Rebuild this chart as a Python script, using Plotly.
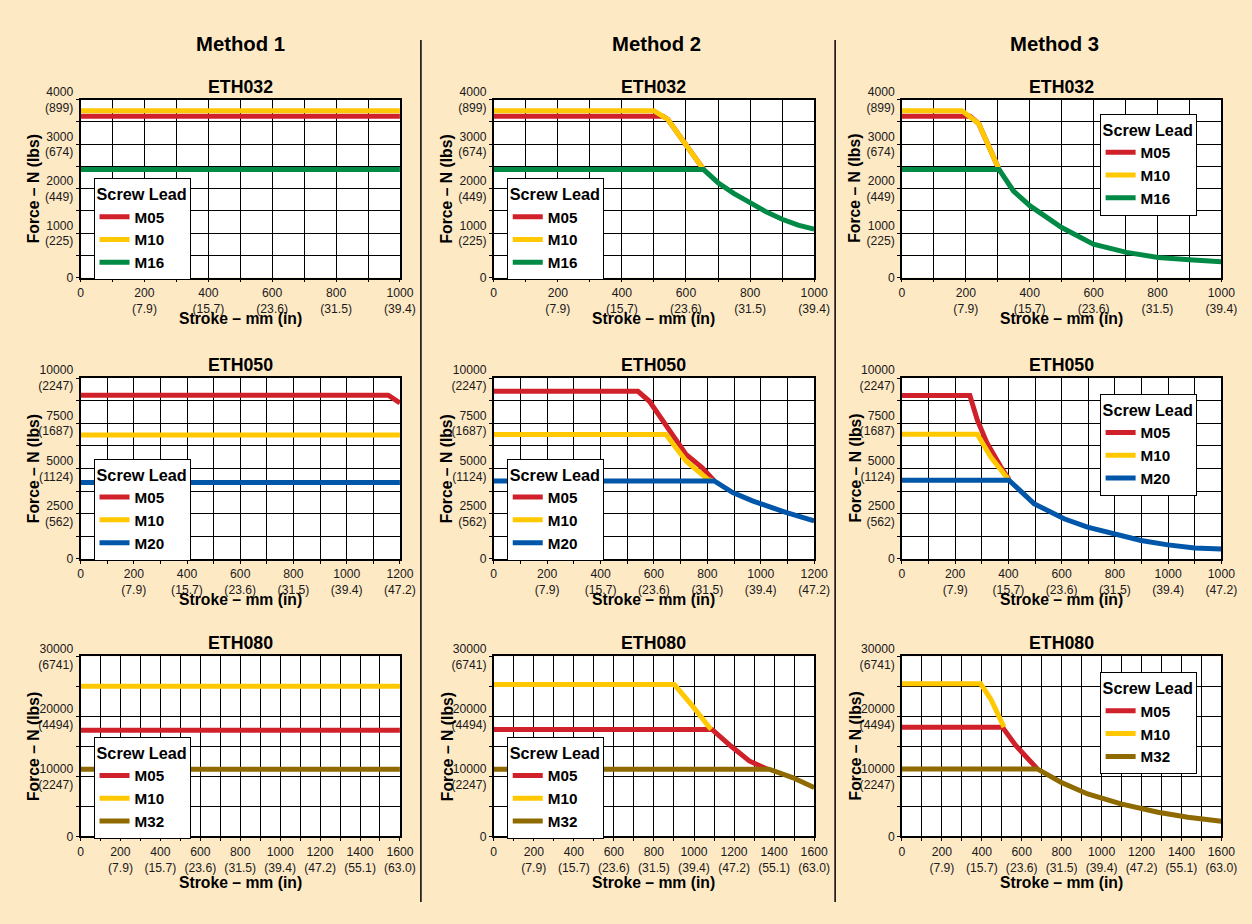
import plotly.graph_objects as go

W, H = 1252, 924
BG = "#FEE9C5"
FONT = "Liberation Sans, Arial, Helvetica, sans-serif"

# ---------------- labels ----------------
methods = ["Method 1", "Method 2", "Method 3"]
models = ["ETH032", "ETH050", "ETH080"]
lead_names = {
    "ETH032": ["M05", "M10", "M16"],
    "ETH050": ["M05", "M10", "M20"],
    "ETH080": ["M05", "M10", "M32"],
}
lead_colors = {"M05": "#D0212B", "M10": "#FFC800", "M16": "#008A46",
               "M20": "#0056A8", "M32": "#8E6A00"}
x_title = "Stroke – mm (in)"
y_title = "Force – N (lbs)"
legend_title = "Screw Lead"

# ---------------- tick labels ----------------
xtick_1000 = [0, 200, 400, 600, 800, 1000]
xtext_1000 = ["0", "200<br>(7.9)", "400<br>(15.7)", "600<br>(23.6)", "800<br>(31.5)", "1000<br>(39.4)"]
xtick_1200 = [0, 200, 400, 600, 800, 1000, 1200]
xtext_1200 = ["0", "200<br>(7.9)", "400<br>(15.7)", "600<br>(23.6)", "800<br>(31.5)", "1000<br>(39.4)", "1200<br>(47.2)"]
xtext_1200_m3 = ["0", "200<br>(7.9)", "400<br>(15.7)", "600<br>(23.6)", "800<br>(31.5)", "1000<br>(39.4)", "1000<br>(47.2)"]
xtick_1600 = [0, 200, 400, 600, 800, 1000, 1200, 1400, 1600]
xtext_1600 = ["0", "200<br>(7.9)", "400<br>(15.7)", "600<br>(23.6)", "800<br>(31.5)", "1000<br>(39.4)",
              "1200<br>(47.2)", "1400<br>(55.1)", "1600<br>(63.0)"]

ytick_032 = [0, 1000, 2000, 3000, 4000]
ytext_032 = ["0", "1000<br>(225)", "2000<br>(449)", "3000<br>(674)", "4000<br>(899)"]
ytick_050 = [0, 2500, 5000, 7500, 10000]
ytext_050 = ["0", "2500<br>(562)", "5000<br>(1124)", "7500<br>(1687)", "10000<br>(2247)"]
ytick_080 = [0, 10000, 20000, 30000]
ytext_080 = ["0", "10000<br>(2247)", "20000<br>(4494)", "30000<br>(6741)"]

# ---------------- data: stroke (mm) / force (N) ----------------
# ETH032 - Method 1
e032_m1_m05_x = [0, 1000]; e032_m1_m05_y = [3630, 3630]
e032_m1_m10_x = [0, 1000]; e032_m1_m10_y = [3750, 3750]
e032_m1_m16_x = [0, 1000]; e032_m1_m16_y = [2430, 2430]
# ETH032 - Method 2
e032_m2_m05_x = [0, 528, 543, 600, 655]; e032_m2_m05_y = [3630, 3630, 3560, 2980, 2430]
e032_m2_m10_x = [0, 500, 543, 600, 655]; e032_m2_m10_y = [3750, 3750, 3560, 2980, 2430]
e032_m2_m16_x = [0, 655, 700, 750, 800, 850, 900, 950, 1000]
e032_m2_m16_y = [2430, 2430, 2134, 1888, 1687, 1478, 1313, 1179, 1090]
# ETH032 - Method 3
e032_m3_m05_x = [0, 213, 240, 304]; e032_m3_m05_y = [3630, 3630, 3463, 2430]
e032_m3_m10_x = [0, 188, 240, 304]; e032_m3_m10_y = [3750, 3750, 3463, 2430]
e032_m3_m16_x = [0, 304, 349, 401, 500, 599, 703, 802, 900, 1000]
e032_m3_m16_y = [2430, 2430, 1948, 1612, 1127, 754, 567, 455, 403, 358]

# ETH050 - Method 1
e050_m1_m05_x = [0, 1156, 1200]; e050_m1_m05_y = [9050, 9050, 8620]
e050_m1_m10_x = [0, 1200]; e050_m1_m10_y = [6850, 6850]
e050_m1_m20_x = [0, 1200]; e050_m1_m20_y = [4220, 4220]
# ETH050 - Method 2
e050_m2_m05_x = [0, 540, 583, 645, 720, 780, 826]; e050_m2_m05_y = [9270, 9270, 8716, 7431, 5780, 5046, 4312]
e050_m2_m10_x = [0, 645, 720, 801, 820]; e050_m2_m10_y = [6880, 6880, 5413, 4404, 4312]
e050_m2_m20_x = [0, 826, 895, 969, 1094, 1200]; e050_m2_m20_y = [4312, 4312, 3670, 3211, 2569, 2110]
# ETH050 - Method 3
e050_m3_m05_x = [0, 255, 283, 320, 371, 402]; e050_m3_m05_y = [9040, 9040, 7685, 6389, 5093, 4400]
e050_m3_m10_x = [0, 283, 333, 383, 402]; e050_m3_m10_y = [6900, 6900, 5648, 4630, 4352]
e050_m3_m20_x = [0, 402, 496, 609, 697, 798, 898, 999, 1100, 1200]
e050_m3_m20_y = [4352, 4352, 3056, 2222, 1759, 1389, 1019, 778, 611, 556]

# ETH080 - Method 1
e080_m1_m05_x = [0, 1600]; e080_m1_m05_y = [17700, 17700]
e080_m1_m10_x = [0, 1600]; e080_m1_m10_y = [25000, 25000]
e080_m1_m32_x = [0, 1600]; e080_m1_m32_y = [11180, 11180]
# ETH080 - Method 2
e080_m2_m05_x = [0, 1090, 1184, 1276, 1367]; e080_m2_m05_y = [17820, 17820, 15052, 12562, 11179]
e080_m2_m10_x = [0, 902, 993, 1085]; e080_m2_m10_y = [25300, 25300, 21694, 17820]
e080_m2_m32_x = [0, 1375, 1492, 1600]; e080_m2_m32_y = [11180, 11180, 9795, 8135]
# ETH080 - Method 3
e080_m3_m05_x = [0, 503, 570, 628, 678]; e080_m3_m05_y = [18200, 18200, 15136, 13188, 11240]
e080_m3_m10_x = [0, 394, 444, 494, 511]; e080_m3_m10_y = [25430, 25430, 22930, 19588, 18200]
e080_m3_m32_x = [0, 678, 796, 930, 1097, 1282, 1432, 1600]
e080_m3_m32_y = [11240, 11240, 9015, 7067, 5398, 4007, 3172, 2504]

series = {
    ("ETH032", 0): [(e032_m1_m05_x, e032_m1_m05_y), (e032_m1_m10_x, e032_m1_m10_y), (e032_m1_m16_x, e032_m1_m16_y)],
    ("ETH032", 1): [(e032_m2_m05_x, e032_m2_m05_y), (e032_m2_m10_x, e032_m2_m10_y), (e032_m2_m16_x, e032_m2_m16_y)],
    ("ETH032", 2): [(e032_m3_m05_x, e032_m3_m05_y), (e032_m3_m10_x, e032_m3_m10_y), (e032_m3_m16_x, e032_m3_m16_y)],
    ("ETH050", 0): [(e050_m1_m05_x, e050_m1_m05_y), (e050_m1_m10_x, e050_m1_m10_y), (e050_m1_m20_x, e050_m1_m20_y)],
    ("ETH050", 1): [(e050_m2_m05_x, e050_m2_m05_y), (e050_m2_m10_x, e050_m2_m10_y), (e050_m2_m20_x, e050_m2_m20_y)],
    ("ETH050", 2): [(e050_m3_m05_x, e050_m3_m05_y), (e050_m3_m10_x, e050_m3_m10_y), (e050_m3_m20_x, e050_m3_m20_y)],
    ("ETH080", 0): [(e080_m1_m05_x, e080_m1_m05_y), (e080_m1_m10_x, e080_m1_m10_y), (e080_m1_m32_x, e080_m1_m32_y)],
    ("ETH080", 1): [(e080_m2_m05_x, e080_m2_m05_y), (e080_m2_m10_x, e080_m2_m10_y), (e080_m2_m32_x, e080_m2_m32_y)],
    ("ETH080", 2): [(e080_m3_m05_x, e080_m3_m05_y), (e080_m3_m10_x, e080_m3_m10_y), (e080_m3_m32_x, e080_m3_m32_y)],
}

# ---------------- layout geometry ----------------
# The captured picture shows the page slightly reduced and offset, so target
# pixel positions are mapped back to figure coordinates.
SX, OX, SY, OY = 0.9867, 2.3, 0.982, 7.8
FS = 1 / 0.985


def fx(p):
    return (p - OX) / SX / W


def fy(p):
    return 1 - (p - OY) / SY / H


col_px = [(80, 400), (494, 815), (903, 1223)]
row_px = [(93, 272), (373, 555), (653, 834)]
row_axes = {
    "ETH032": dict(xmax=1000, ymax=4000, yminor=500, ytv=ytick_032, ytt=ytext_032),
    "ETH050": dict(xmax=1200, ymax=10000, yminor=1250, ytv=ytick_050, ytt=ytext_050),
    "ETH080": dict(xmax=1600, ymax=30000, yminor=5000, ytv=ytick_080, ytt=ytext_080),
}
xticks_for = {
    ("ETH032", 0): (xtick_1000, xtext_1000), ("ETH032", 1): (xtick_1000, xtext_1000), ("ETH032", 2): (xtick_1000, xtext_1000),
    ("ETH050", 0): (xtick_1200, xtext_1200), ("ETH050", 1): (xtick_1200, xtext_1200), ("ETH050", 2): (xtick_1200, xtext_1200_m3),
    ("ETH080", 0): (xtick_1600, xtext_1600), ("ETH080", 1): (xtick_1600, xtext_1600), ("ETH080", 2): (xtick_1600, xtext_1600),
}
legend_px = [[(93, 172), (507, 172), (1101, 107)],
             [(93, 454), (507, 454), (1101, 389)],
             [(93, 734), (507, 734), (1101, 669)]]
xtitle_gap = {"ETH032": 41, "ETH050": 41, "ETH080": 46}

fig = go.Figure()
layout = dict(
    width=W, height=H, autosize=False,
    margin=dict(l=0, r=0, t=0, b=0),
    paper_bgcolor=BG, plot_bgcolor="white",
    font=dict(family=FONT, color="black"),
    annotations=[], shapes=[],
)

k = 0
for r, model in enumerate(models):
    ax = row_axes[model]
    for c in range(3):
        k += 1
        sfx = "" if k == 1 else str(k)
        xname, yname = "x" + sfx, "y" + sfx
        legname = "legend" + sfx
        x0, x1 = col_px[c]
        t, b = row_px[r]
        tv, tt = xticks_for[(model, c)]
        for (xs, ys), name in zip(series[(model, c)], lead_names[model]):
            fig.add_trace(go.Scatter(
                x=xs, y=ys, mode="lines", name=name,
                line=dict(color=lead_colors[name], width=5),
                xaxis=xname, yaxis=yname, legend=legname, showlegend=True,
                hoverinfo="skip",
            ))
        common = dict(
            showline=True, linecolor="black", linewidth=1.5, mirror=True,
            showgrid=True, gridcolor="black", gridwidth=1.2, zeroline=False,
            ticks="outside", ticklen=3, tickwidth=1, tickcolor="black",
            tickfont=dict(family=FONT, size=12 * FS, color="#1a1a1a"),
            tickmode="array", fixedrange=True,
        )
        layout["xaxis" + sfx] = dict(
            common, domain=[fx(x0), fx(x1)], range=[0, ax["xmax"]], anchor=yname,
            tickvals=tv, ticktext=tt,
            minor=dict(tickmode="linear", tick0=0, dtick=100, showgrid=True, gridcolor="black",
                       gridwidth=1.2, ticks="outside", ticklen=3, tickcolor="black"),
        )
        layout["yaxis" + sfx] = dict(
            common, domain=[fy(b), fy(t)], range=[0, ax["ymax"]], anchor=xname,
            tickvals=ax["ytv"], ticktext=ax["ytt"],
            minor=dict(tickmode="linear", tick0=0, dtick=ax["yminor"], showgrid=True, gridcolor="black",
                       gridwidth=1.2, ticks="outside", ticklen=3, tickcolor="black"),
        )
        lx, ly = legend_px[r][c]
        layout[legname] = dict(
            x=fx(lx), y=fy(ly), xanchor="left", yanchor="top",
            bgcolor="white", bordercolor="black", borderwidth=1,
            font=dict(family=FONT, size=15 * FS, color="black", weight="bold"),
            title=dict(text=legend_title, font=dict(family=FONT, size=16 * FS, color="black", weight="bold")),
            itemwidth=30, tracegroupgap=0, traceorder="normal",
        )
        # panel title
        layout["annotations"].append(dict(
            text=model, x=fx((x0 + x1) / 2), y=fy(t - 13), xref="paper", yref="paper",
            xanchor="center", yanchor="middle", showarrow=False,
            font=dict(family=FONT, size=17.5 * FS, color="black", weight="bold"),
        ))
        # axis titles
        layout["annotations"].append(dict(
            text=x_title, x=fx((x0 + x1) / 2), y=fy(b + xtitle_gap[model]),
            xref="paper", yref="paper", xanchor="center", yanchor="middle", showarrow=False,
            font=dict(family=FONT, size=15.5 * FS, color="black", weight="bold"),
        ))
        layout["annotations"].append(dict(
            text=y_title, x=fx(x0 - 47), y=fy((t + b) / 2), textangle=-90,
            xref="paper", yref="paper", xanchor="center", yanchor="middle", showarrow=False,
            font=dict(family=FONT, size=15.5 * FS, color="black", weight="bold"),
        ))

# column titles
for cx, m in zip([240, 657, 1056], methods):
    layout["annotations"].append(dict(
        text=m, x=fx(cx), y=fy(37), xref="paper", yref="paper",
        xanchor="center", yanchor="middle", showarrow=False,
        font=dict(family=FONT, size=20 * FS, color="black", weight="bold"),
    ))

# column separators
for sx in [421, 836]:
    layout["shapes"].append(dict(type="line", xref="paper", yref="paper",
                                 x0=fx(sx), x1=fx(sx), y0=fy(33), y1=fy(900),
                                 line=dict(color="black", width=1.5)))

fig.update_layout(**layout)
fig.write_html(
    "out.html",
    config={"displayModeBar": False, "responsive": False},
    post_script="document.body.style.margin='0';document.body.style.padding='0';"
                "document.documentElement.style.margin='0';document.body.style.overflow='hidden';",
)
